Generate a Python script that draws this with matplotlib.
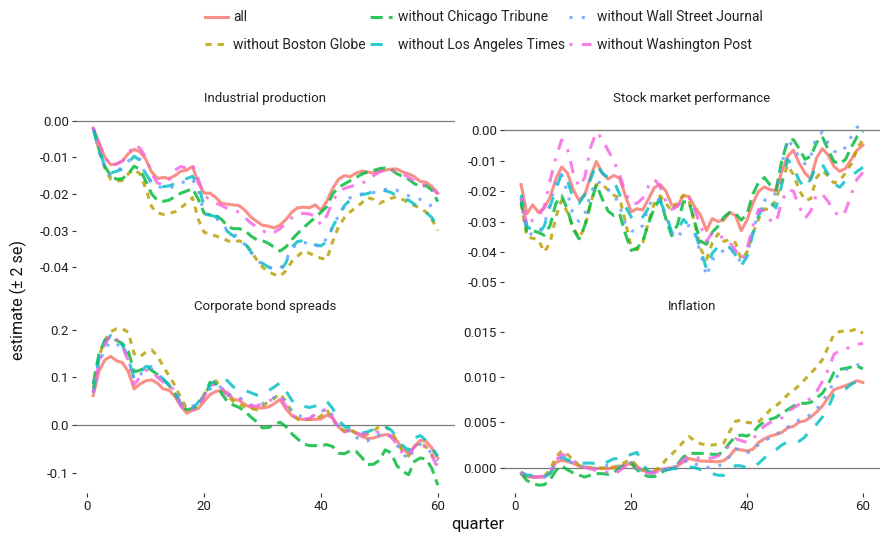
import matplotlib
matplotlib.use("Agg")
import matplotlib.pyplot as plt
import numpy as np

plt.rcParams['font.family'] = ['Roboto', 'DejaVu Sans']

quarter = np.arange(1, 61)

series_names = ["all", "without Boston Globe", "without Chicago Tribune",
                "without Los Angeles Times", "without Wall Street Journal",
                "without Washington Post"]
series_colors = ["#F8766D", "#B79F00", "#00BA38", "#00BFC4", "#619CFF", "#F564E3"]
series_dashes = ["-", (0, (2, 2)), (0, (4, 2)), (0, (4, 4)), (0, (1, 3)), (0, (1, 3, 4, 3))]

# Industrial production
ip_all = [-0.0020, -0.0060, -0.0100, -0.0120, -0.0118, -0.0110, -0.0090, -0.0078, -0.0085, -0.0105,
          -0.0140, -0.0158, -0.0155, -0.0158, -0.0150, -0.0138, -0.0135, -0.0125, -0.0170, -0.0198,
          -0.0198, -0.0210, -0.0226, -0.0228, -0.0230, -0.0232, -0.0245, -0.0263, -0.0275, -0.0286,
          -0.0288, -0.0293, -0.0285, -0.0270, -0.0250, -0.0238, -0.0236, -0.0238, -0.0230, -0.0244,
          -0.0220, -0.0185, -0.0160, -0.0150, -0.0153, -0.0143, -0.0138, -0.0140, -0.0143, -0.0138,
          -0.0135, -0.0132, -0.0132, -0.0140, -0.0145, -0.0153, -0.0166, -0.0168, -0.0180, -0.0198]
ip_boston = [-0.0020, -0.0080, -0.0130, -0.0160, -0.0165, -0.0163, -0.0145, -0.0133, -0.0145, -0.0185,
             -0.0235, -0.0252, -0.0256, -0.0253, -0.0249, -0.0238, -0.0225, -0.0210, -0.0270, -0.0305,
             -0.0310, -0.0315, -0.0320, -0.0328, -0.0332, -0.0328, -0.0335, -0.0355, -0.0380, -0.0400,
             -0.0413, -0.0420, -0.0425, -0.0410, -0.0385, -0.0370, -0.0356, -0.0362, -0.0370, -0.0376,
             -0.0379, -0.0330, -0.0290, -0.0265, -0.0249, -0.0237, -0.0224, -0.0210, -0.0215, -0.0226,
             -0.0218, -0.0212, -0.0208, -0.0215, -0.0224, -0.0232, -0.0238, -0.0250, -0.0270, -0.0300]
ip_chicago = [-0.0020, -0.0080, -0.0125, -0.0150, -0.0160, -0.0158, -0.0145, -0.0124, -0.0133, -0.0165,
              -0.0200, -0.0218, -0.0220, -0.0217, -0.0207, -0.0198, -0.0192, -0.0185, -0.0215, -0.0253,
              -0.0258, -0.0258, -0.0270, -0.0289, -0.0295, -0.0295, -0.0300, -0.0315, -0.0325, -0.0328,
              -0.0335, -0.0346, -0.0356, -0.0345, -0.0325, -0.0308, -0.0293, -0.0278, -0.0265, -0.0250,
              -0.0235, -0.0200, -0.0182, -0.0173, -0.0164, -0.0155, -0.0146, -0.0140, -0.0136, -0.0131,
              -0.0129, -0.0133, -0.0145, -0.0152, -0.0160, -0.0172, -0.0180, -0.0177, -0.0190, -0.0221]
ip_latimes = [-0.0020, -0.0080, -0.0125, -0.0143, -0.0138, -0.0132, -0.0115, -0.0097, -0.0108, -0.0145,
              -0.0168, -0.0177, -0.0180, -0.0178, -0.0172, -0.0164, -0.0158, -0.0152, -0.0175, -0.0235,
              -0.0258, -0.0262, -0.0282, -0.0303, -0.0315, -0.0322, -0.0336, -0.0358, -0.0378, -0.0390,
              -0.0400, -0.0406, -0.0411, -0.0388, -0.0345, -0.0330, -0.0328, -0.0334, -0.0339, -0.0342,
              -0.0330, -0.0290, -0.0260, -0.0232, -0.0217, -0.0206, -0.0202, -0.0199, -0.0193, -0.0189,
              -0.0191, -0.0196, -0.0206, -0.0214, -0.0217, -0.0228, -0.0240, -0.0250, -0.0265, -0.0291]
ip_wsj = [-0.0020, -0.0085, -0.0130, -0.0150, -0.0140, -0.0125, -0.0110, -0.0100, -0.0105, -0.0150,
          -0.0170, -0.0180, -0.0183, -0.0185, -0.0178, -0.0170, -0.0165, -0.0160, -0.0190, -0.0255,
          -0.0260, -0.0265, -0.0280, -0.0300, -0.0310, -0.0320, -0.0340, -0.0360, -0.0378, -0.0395,
          -0.0400, -0.0405, -0.0405, -0.0380, -0.0350, -0.0335, -0.0333, -0.0335, -0.0340, -0.0345,
          -0.0320, -0.0290, -0.0260, -0.0235, -0.0210, -0.0205, -0.0200, -0.0198, -0.0196, -0.0194,
          -0.0188, -0.0185, -0.0190, -0.0198, -0.0205, -0.0210, -0.0215, -0.0221, -0.0235, -0.0249]
ip_wapo = [-0.0020, -0.0065, -0.0100, -0.0125, -0.0118, -0.0110, -0.0090, -0.0065, -0.0075, -0.0100,
           -0.0145, -0.0170, -0.0175, -0.0160, -0.0135, -0.0125, -0.0130, -0.0120, -0.0160, -0.0205,
           -0.0215, -0.0225, -0.0232, -0.0240, -0.0245, -0.0250, -0.0265, -0.0280, -0.0290, -0.0300,
           -0.0310, -0.0305, -0.0295, -0.0280, -0.0265, -0.0255, -0.0253, -0.0255, -0.0260, -0.0285,
           -0.0260, -0.0220, -0.0195, -0.0185, -0.0180, -0.0175, -0.0170, -0.0165, -0.0150, -0.0140,
           -0.0135, -0.0135, -0.0140, -0.0145, -0.0155, -0.0165, -0.0175, -0.0175, -0.0185, -0.0200]

# Stock market performance
sm_all = [-0.0178, -0.0274, -0.0245, -0.0270, -0.0255, -0.0220, -0.0160, -0.0120, -0.0140, -0.0195,
          -0.0230, -0.0212, -0.0150, -0.0102, -0.0140, -0.0160, -0.0148, -0.0158, -0.0215, -0.0268,
          -0.0258, -0.0262, -0.0225, -0.0188, -0.0178, -0.0200, -0.0245, -0.0248, -0.0215, -0.0217,
          -0.0253, -0.0279, -0.0330, -0.0290, -0.0300, -0.0295, -0.0270, -0.0280, -0.0330, -0.0295,
          -0.0240, -0.0200, -0.0186, -0.0195, -0.0198, -0.0135, -0.0085, -0.0065, -0.0108, -0.0140,
          -0.0160, -0.0090, -0.0060, -0.0081, -0.0118, -0.0135, -0.0125, -0.0095, -0.0065, -0.0048]
sm_boston = [-0.0240, -0.0350, -0.0355, -0.0360, -0.0400, -0.0370, -0.0285, -0.0230, -0.0270, -0.0320,
             -0.0353, -0.0320, -0.0240, -0.0178, -0.0178, -0.0195, -0.0213, -0.0223, -0.0300, -0.0385,
             -0.0393, -0.0370, -0.0300, -0.0240, -0.0215, -0.0240, -0.0265, -0.0235, -0.0213, -0.0234,
             -0.0308, -0.0390, -0.0425, -0.0370, -0.0340, -0.0365, -0.0360, -0.0370, -0.0425, -0.0400,
             -0.0340, -0.0291, -0.0258, -0.0262, -0.0228, -0.0166, -0.0115, -0.0145, -0.0195, -0.0230,
             -0.0225, -0.0155, -0.0132, -0.0150, -0.0173, -0.0165, -0.0140, -0.0110, -0.0060, -0.0030]
sm_chicago = [-0.0234, -0.0330, -0.0330, -0.0336, -0.0345, -0.0313, -0.0240, -0.0215, -0.0260, -0.0325,
              -0.0357, -0.0313, -0.0240, -0.0178, -0.0225, -0.0265, -0.0280, -0.0274, -0.0340, -0.0395,
              -0.0388, -0.0365, -0.0305, -0.0255, -0.0225, -0.0291, -0.0347, -0.0310, -0.0235, -0.0235,
              -0.0305, -0.0365, -0.0375, -0.0335, -0.0315, -0.0285, -0.0270, -0.0273, -0.0295, -0.0275,
              -0.0210, -0.0170, -0.0155, -0.0180, -0.0195, -0.0098, -0.0035, -0.0030, -0.0060, -0.0095,
              -0.0085, -0.0040, -0.0020, -0.0064, -0.0102, -0.0110, -0.0095, -0.0055, -0.0020, -0.0002]
sm_latimes = [-0.0212, -0.0315, -0.0330, -0.0340, -0.0315, -0.0250, -0.0195, -0.0140, -0.0165, -0.0223,
              -0.0240, -0.0210, -0.0160, -0.0110, -0.0140, -0.0155, -0.0165, -0.0210, -0.0250, -0.0285,
              -0.0300, -0.0285, -0.0255, -0.0229, -0.0232, -0.0275, -0.0335, -0.0330, -0.0293, -0.0313,
              -0.0333, -0.0395, -0.0455, -0.0404, -0.0383, -0.0390, -0.0385, -0.0410, -0.0445, -0.0415,
              -0.0340, -0.0280, -0.0240, -0.0235, -0.0255, -0.0178, -0.0095, -0.0120, -0.0165, -0.0190,
              -0.0160, -0.0115, -0.0112, -0.0144, -0.0175, -0.0187, -0.0165, -0.0150, -0.0135, -0.0121]
sm_wsj = [-0.0223, -0.0330, -0.0345, -0.0335, -0.0310, -0.0240, -0.0175, -0.0144, -0.0205, -0.0279,
          -0.0300, -0.0275, -0.0208, -0.0166, -0.0176, -0.0195, -0.0208, -0.0250, -0.0305, -0.0330,
          -0.0334, -0.0313, -0.0250, -0.0220, -0.0230, -0.0280, -0.0335, -0.0355, -0.0323, -0.0313,
          -0.0343, -0.0405, -0.0480, -0.0426, -0.0406, -0.0395, -0.0385, -0.0400, -0.0440, -0.0410,
          -0.0330, -0.0270, -0.0230, -0.0225, -0.0205, -0.0110, -0.0030, -0.0055, -0.0088, -0.0110,
          -0.0085, -0.0020, -0.0006, -0.0042, -0.0068, -0.0075, -0.0055, -0.0020, 0.0010, 0.0032]
sm_wapo = [-0.0223, -0.0313, -0.0295, -0.0285, -0.0250, -0.0165, -0.0090, -0.0031, -0.0060, -0.0140,
           -0.0185, -0.0155, -0.0055, -0.0005, -0.0028, -0.0065, -0.0100, -0.0145, -0.0205, -0.0240,
           -0.0240, -0.0223, -0.0183, -0.0160, -0.0185, -0.0235, -0.0260, -0.0250, -0.0226, -0.0223,
           -0.0263, -0.0315, -0.0365, -0.0336, -0.0345, -0.0355, -0.0368, -0.0395, -0.0425, -0.0390,
           -0.0315, -0.0260, -0.0265, -0.0295, -0.0305, -0.0234, -0.0195, -0.0200, -0.0250, -0.0290,
           -0.0265, -0.0210, -0.0210, -0.0234, -0.0265, -0.0285, -0.0265, -0.0210, -0.0160, -0.0138]

# Corporate bond spreads
cb_all = [0.062, 0.114, 0.137, 0.144, 0.135, 0.131, 0.112, 0.076, 0.086, 0.093,
          0.095, 0.088, 0.076, 0.073, 0.060, 0.040, 0.025, 0.031, 0.035, 0.050,
          0.064, 0.071, 0.072, 0.068, 0.054, 0.052, 0.043, 0.037, 0.036, 0.036,
          0.038, 0.045, 0.054, 0.034, 0.020, 0.013, 0.012, 0.012, 0.012, 0.013,
          0.021, 0.015, -0.004, -0.014, -0.011, -0.017, -0.024, -0.028, -0.027, -0.023,
          -0.020, -0.022, -0.033, -0.050, -0.060, -0.045, -0.032, -0.034, -0.048, -0.069]
cb_boston = [0.076, 0.145, 0.178, 0.196, 0.202, 0.202, 0.195, 0.150, 0.143, 0.153,
             0.158, 0.145, 0.123, 0.103, 0.083, 0.057, 0.035, 0.035, 0.040, 0.062,
             0.084, 0.093, 0.078, 0.060, 0.050, 0.044, 0.038, 0.035, 0.032, 0.040,
             0.049, 0.056, 0.066, 0.050, 0.027, 0.013, 0.011, 0.012, 0.013, 0.019,
             0.032, 0.013, -0.007, -0.011, -0.007, -0.017, -0.022, -0.019, -0.012, -0.003,
             -0.002, -0.012, -0.034, -0.056, -0.065, -0.045, -0.036, -0.045, -0.062, -0.083]
cb_chicago = [0.087, 0.150, 0.178, 0.181, 0.178, 0.171, 0.155, 0.112, 0.115, 0.122,
              0.115, 0.106, 0.096, 0.083, 0.066, 0.042, 0.032, 0.035, 0.043, 0.064,
              0.090, 0.086, 0.066, 0.049, 0.042, 0.037, 0.029, 0.017, 0.007, -0.006,
              -0.005, 0.001, 0.006, -0.003, -0.018, -0.029, -0.039, -0.043, -0.043, -0.043,
              -0.041, -0.045, -0.059, -0.060, -0.054, -0.055, -0.068, -0.083, -0.082, -0.074,
              -0.052, -0.058, -0.085, -0.097, -0.104, -0.076, -0.069, -0.071, -0.091, -0.126]
cb_latimes = [0.069, 0.140, 0.173, 0.188, 0.178, 0.168, 0.141, 0.097, 0.110, 0.123,
              0.122, 0.108, 0.096, 0.085, 0.072, 0.045, 0.032, 0.034, 0.048, 0.066,
              0.082, 0.094, 0.100, 0.093, 0.080, 0.076, 0.073, 0.068, 0.063, 0.065,
              0.072, 0.080, 0.089, 0.072, 0.052, 0.042, 0.040, 0.037, 0.040, 0.048,
              0.050, 0.035, 0.011, -0.003, -0.006, -0.012, -0.017, -0.014, -0.009, -0.005,
              -0.004, -0.010, -0.026, -0.043, -0.053, -0.027, -0.022, -0.032, -0.048, -0.065]
cb_wsj = [0.068, 0.130, 0.160, 0.175, 0.170, 0.162, 0.140, 0.095, 0.105, 0.118,
          0.118, 0.105, 0.095, 0.085, 0.070, 0.045, 0.035, 0.040, 0.045, 0.058,
          0.075, 0.085, 0.078, 0.066, 0.060, 0.058, 0.050, 0.042, 0.040, 0.045,
          0.052, 0.058, 0.063, 0.048, 0.030, 0.020, 0.018, 0.018, 0.020, 0.028,
          0.035, 0.020, -0.002, -0.012, -0.012, -0.025, -0.034, -0.033, -0.027, -0.020,
          -0.018, -0.025, -0.042, -0.060, -0.072, -0.050, -0.040, -0.047, -0.060, -0.075]
cb_wapo = [0.070, 0.130, 0.170, 0.190, 0.180, 0.165, 0.135, 0.085, 0.100, 0.115,
           0.115, 0.100, 0.090, 0.085, 0.070, 0.040, 0.028, 0.032, 0.040, 0.060,
           0.082, 0.088, 0.078, 0.062, 0.057, 0.055, 0.048, 0.040, 0.040, 0.045,
           0.050, 0.056, 0.058, 0.040, 0.022, 0.014, 0.012, 0.014, 0.022, 0.026,
           0.035, 0.015, -0.005, -0.014, -0.010, -0.016, -0.020, -0.018, -0.016, -0.014,
           -0.014, -0.025, -0.040, -0.060, -0.065, -0.045, -0.035, -0.048, -0.065, -0.090]

# Inflation
inf_all = [-0.00060, -0.00100, -0.00100, -0.00100, -0.00100, -0.00060, 0.00060, 0.00085, 0.00070, 0.00050,
           0.00020, 0.00005, -0.00005, -0.00007, -0.00007, -0.00007, 0.00000, 0.00015, 0.00035, 0.00048,
           0.00015, -0.00030, -0.00045, -0.00040, -0.00020, -0.00010, 0.00000, 0.00020, 0.00065, 0.00104,
           0.00087, 0.00075, 0.00074, 0.00070, 0.00067, 0.00080, 0.00130, 0.00208, 0.00198, 0.00186,
           0.00205, 0.00280, 0.00320, 0.00350, 0.00368, 0.00390, 0.00440, 0.00457, 0.00505, 0.00518,
           0.00560, 0.00615, 0.00680, 0.00770, 0.00860, 0.00884, 0.00905, 0.00930, 0.00960, 0.00940]
inf_boston = [-0.00060, -0.00100, -0.00100, -0.00100, -0.00090, -0.00020, 0.00120, 0.00186, 0.00150, 0.00090,
              0.00030, 0.00010, 0.00005, 0.00000, 0.00000, 0.00005, 0.00010, 0.00030, 0.00065, 0.00093,
              0.00020, -0.00020, -0.00040, -0.00030, 0.00010, 0.00090, 0.00150, 0.00215, 0.00285, 0.00345,
              0.00295, 0.00265, 0.00255, 0.00252, 0.00260, 0.00275, 0.00400, 0.00512, 0.00527, 0.00500,
              0.00494, 0.00510, 0.00565, 0.00640, 0.00685, 0.00735, 0.00805, 0.00850, 0.00910, 0.00975,
              0.01040, 0.01110, 0.01190, 0.01330, 0.01470, 0.01500, 0.01505, 0.01510, 0.01530, 0.01480]
inf_chicago = [-0.00060, -0.00140, -0.00170, -0.00190, -0.00185, -0.00130, -0.00030, 0.00022, -0.00020, -0.00055,
               -0.00080, -0.00100, -0.00080, -0.00063, -0.00063, -0.00070, -0.00050, 0.00000, 0.00030, 0.00048,
               -0.00020, -0.00070, -0.00095, -0.00095, -0.00060, -0.00020, -0.00005, 0.00045, 0.00120, 0.00160,
               0.00160, 0.00160, 0.00160, 0.00150, 0.00145, 0.00190, 0.00275, 0.00345, 0.00362, 0.00350,
               0.00390, 0.00460, 0.00510, 0.00535, 0.00555, 0.00605, 0.00640, 0.00680, 0.00710, 0.00710,
               0.00720, 0.00770, 0.00820, 0.00920, 0.01050, 0.01085, 0.01095, 0.01110, 0.01120, 0.01090]
inf_latimes = [-0.00045, -0.00080, -0.00080, -0.00095, -0.00100, -0.00060, 0.00050, 0.00123, 0.00090, 0.00070,
               0.00055, 0.00052, 0.00054, 0.00048, 0.00030, 0.00070, 0.00100, 0.00104, 0.00120, 0.00149,
               0.00170, 0.00040, -0.00040, -0.00063, -0.00055, -0.00026, -0.00010, -0.00007, 0.00000, 0.00008,
               0.00005, -0.00020, -0.00050, -0.00063, -0.00080, -0.00082, -0.00030, 0.00025, 0.00022, 0.00000,
               0.00005, 0.00050, 0.00110, 0.00160, 0.00200, 0.00252, 0.00285, 0.00297, 0.00292, 0.00340,
               0.00430, 0.00480, 0.00560, 0.00660, 0.00810, 0.00845, 0.00870, 0.00920, 0.00955, 0.00940]
inf_wsj = [-0.00050, -0.00100, -0.00100, -0.00100, -0.00100, -0.00050, 0.00060, 0.00120, 0.00080, 0.00050,
           0.00030, 0.00010, 0.00000, -0.00005, 0.00010, 0.00030, 0.00020, 0.00020, 0.00040, 0.00060,
           0.00000, -0.00040, -0.00055, -0.00050, -0.00030, -0.00010, 0.00005, 0.00020, 0.00060, 0.00090,
           0.00050, 0.00010, 0.00005, 0.00010, 0.00020, 0.00050, 0.00130, 0.00210, 0.00200, 0.00170,
           0.00180, 0.00260, 0.00300, 0.00330, 0.00380, 0.00390, 0.00450, 0.00470, 0.00530, 0.00540,
           0.00590, 0.00640, 0.00740, 0.00820, 0.00950, 0.01050, 0.01080, 0.01100, 0.01130, 0.01160]
inf_wapo = [-0.00050, -0.00100, -0.00100, -0.00100, -0.00090, -0.00040, 0.00080, 0.00150, 0.00130, 0.00080,
            0.00040, 0.00010, -0.00010, -0.00030, -0.00040, -0.00050, -0.00070, -0.00030, 0.00020, 0.00030,
            0.00000, -0.00040, -0.00060, -0.00055, -0.00030, -0.00010, 0.00010, 0.00040, 0.00090, 0.00130,
            0.00120, 0.00100, 0.00100, 0.00110, 0.00130, 0.00180, 0.00250, 0.00320, 0.00300, 0.00280,
            0.00310, 0.00400, 0.00460, 0.00500, 0.00520, 0.00550, 0.00620, 0.00660, 0.00700, 0.00720,
            0.00770, 0.00840, 0.00950, 0.01080, 0.01250, 0.01290, 0.01310, 0.01330, 0.01360, 0.01370]

ip_ticks = [0.0, -0.01, -0.02, -0.03, -0.04]
ip_ticklabels = ["0.00", "-0.01", "-0.02", "-0.03", "-0.04"]
sm_ticks = [0.0, -0.01, -0.02, -0.03, -0.04, -0.05]
sm_ticklabels = ["0.00", "-0.01", "-0.02", "-0.03", "-0.04", "-0.05"]
cb_ticks = [0.2, 0.1, 0.0, -0.1]
cb_ticklabels = ["0.2", "0.1", "0.0", "-0.1"]
inf_ticks = [0.015, 0.010, 0.005, 0.0]
inf_ticklabels = ["0.015", "0.010", "0.005", "0.000"]
x_ticks = [0, 20, 40, 60]

panels = [
    ("Industrial production", [ip_all, ip_boston, ip_chicago, ip_latimes, ip_wsj, ip_wapo],
     ip_ticks, ip_ticklabels, [76, 113, 455, 284], False),
    ("Stock market performance", [sm_all, sm_boston, sm_chicago, sm_latimes, sm_wsj, sm_wapo],
     sm_ticks, sm_ticklabels, [504, 113, 880, 284], False),
    ("Corporate bond spreads", [cb_all, cb_boston, cb_chicago, cb_latimes, cb_wsj, cb_wapo],
     cb_ticks, cb_ticklabels, [76, 321, 455, 493], True),
    ("Inflation", [inf_all, inf_boston, inf_chicago, inf_latimes, inf_wsj, inf_wapo],
     inf_ticks, inf_ticklabels, [504, 321, 880, 493], True),
]

W, H = 881, 537
fig = plt.figure(figsize=(W / 100, H / 100), dpi=100)
text_col = "#222222"

handles = []
for title, data, yt, ytl, box, show_x in panels:
    x0, y0, x1, y1 = box
    ax = fig.add_axes([x0 / W, 1 - y1 / H, (x1 - x0) / W, (y1 - y0) / H])
    ax.axhline(0, color="#7a7a7a", lw=0.9, zorder=1)
    lines = []
    for vals, name, col, ls in zip(data, series_names, series_colors, series_dashes):
        ln, = ax.plot(quarter, vals, color=col, linestyle=ls, lw=2.2, alpha=0.82,
                      label=name, zorder=2)
        lines.append(ln)
    handles = lines
    ax.margins(x=0.05, y=0.05)
    for s in ax.spines.values():
        s.set_visible(False)
    ax.set_yticks(yt)
    ax.set_yticklabels(ytl)
    ax.tick_params(axis="y", length=3, width=0.8, color="#333333", pad=2,
                   labelsize=9.5, labelcolor=text_col)
    if show_x:
        ax.set_xticks(x_ticks)
        ax.tick_params(axis="x", length=3, width=0.8, color="#333333", pad=2,
                       labelsize=9.5, labelcolor=text_col)
    else:
        ax.set_xticks([])
    ax.set_title(title, fontsize=9.5, color=text_col, pad=8)

fig.text(478 / W, 1 - 524 / H, "quarter", ha="center", va="center", fontsize=12, color="#111111")
fig.text(18 / W, 1 - 300 / H, "estimate (\u00b1 2 se)", ha="center", va="center",
         rotation=90, fontsize=11.5, color="#111111")

fig.legend(handles=handles, labels=series_names, ncol=3, loc="center",
           bbox_to_anchor=(484 / W, 1 - 31 / H), frameon=False, fontsize=10,
           handlelength=1.6, handletextpad=0.4, columnspacing=0.3, labelspacing=0.95,
           labelcolor=text_col)

fig.savefig("out.png", dpi=100)
